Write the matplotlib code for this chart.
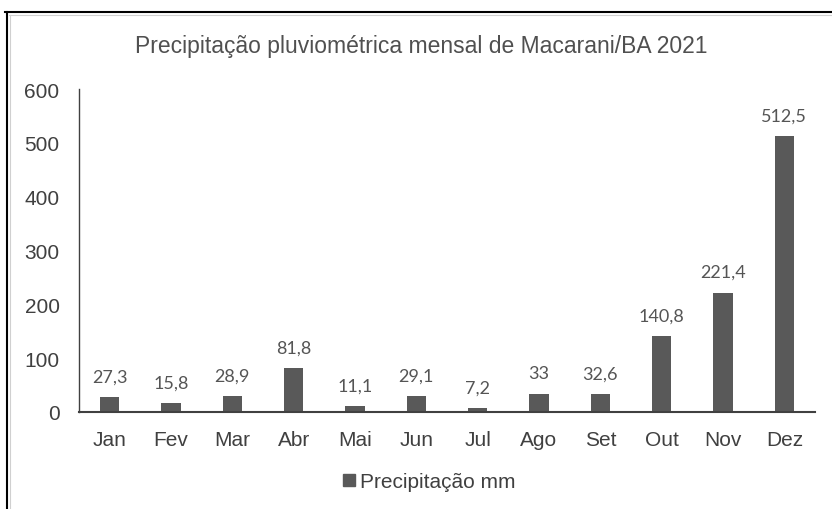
import matplotlib
matplotlib.use("Agg")
import matplotlib.pyplot as plt
from matplotlib.lines import Line2D

months = ["Jan", "Fev", "Mar", "Abr", "Mai", "Jun", "Jul", "Ago", "Set", "Out", "Nov", "Dez"]
precip = [27.3, 15.8, 28.9, 81.8, 11.1, 29.1, 7.2, 33, 32.6, 140.8, 221.4, 512.5]
labels = ["27,3", "15,8", "28,9", "81,8", "11,1", "29,1", "7,2", "33", "32,6", "140,8", "221,4", "512,5"]
yticks = [0, 100, 200, 300, 400, 500, 600]

main_font = "Liberation Sans"
label_font = "Lato"

W, H = 832, 510
fig = plt.figure(figsize=(W / 100, H / 100), dpi=100)
ax = fig.add_axes([79 / W, 1 - 413 / H, (815 - 79) / W, (413 - 90) / H])

bar_color = "#595959"
text_color = "#404040"
ax.bar(range(len(months)), precip, width=0.31, color=bar_color, zorder=2)
ax.set_xlim(-0.5, len(months) - 0.5)
ax.set_ylim(0, 600)
ax.set_yticks(yticks)
ax.set_yticklabels([str(t) for t in yticks], fontsize=15, color=text_color, family=main_font)
ax.set_xticks(range(len(months)))
ax.set_xticklabels(months, fontsize=15, color=text_color, family=main_font)
ax.tick_params(axis="both", length=0)
ax.tick_params(axis="y", pad=14)
ax.tick_params(axis="x", pad=13)
for s in ["top", "right"]:
    ax.spines[s].set_visible(False)
ax.spines["left"].set_color("#404040")
ax.spines["bottom"].set_color("#404040")
ax.spines["left"].set_linewidth(1.0)
ax.spines["bottom"].set_linewidth(1.5)

for i, (v, lab) in enumerate(zip(precip, labels)):
    ax.annotate(lab, (i, v), xytext=(0, 15), textcoords="offset points",
                ha="center", va="center", fontsize=13, color="#555555",
                family=label_font)

fig.text(421 / W, 1 - 47 / H, "Precipitação pluviométrica mensal de Macarani/BA 2021",
         ha="center", va="center", fontsize=16.5, color="#505050", family=main_font)

handle = Line2D([], [], marker="s", linestyle="none", markersize=8,
                markerfacecolor=bar_color, markeredgecolor=bar_color)
fig.legend([handle], ["Precipitação mm"], loc="center", bbox_to_anchor=(428 / W, 1 - 483 / H),
           frameon=False, prop={"family": main_font, "size": 15}, handletextpad=0.1,
           labelcolor=text_color, handlelength=0.8)

# outer frame (top and left)
fig.add_artist(Line2D([5 / W, 1], [1 - 13 / H, 1 - 13 / H], color="black", lw=1.5, transform=fig.transFigure))
fig.add_artist(Line2D([7 / W, 7 / W], [0, 1 - 13 / H], color="black", lw=1.5, transform=fig.transFigure))
fig.add_artist(Line2D([9 / W, 1], [1 - 16 / H, 1 - 16 / H], color="#d0d0d0", lw=0.8, transform=fig.transFigure))
fig.add_artist(Line2D([10 / W, 10 / W], [0, 1 - 16 / H], color="#d0d0d0", lw=0.8, transform=fig.transFigure))

fig.savefig("out.png", dpi=100)
